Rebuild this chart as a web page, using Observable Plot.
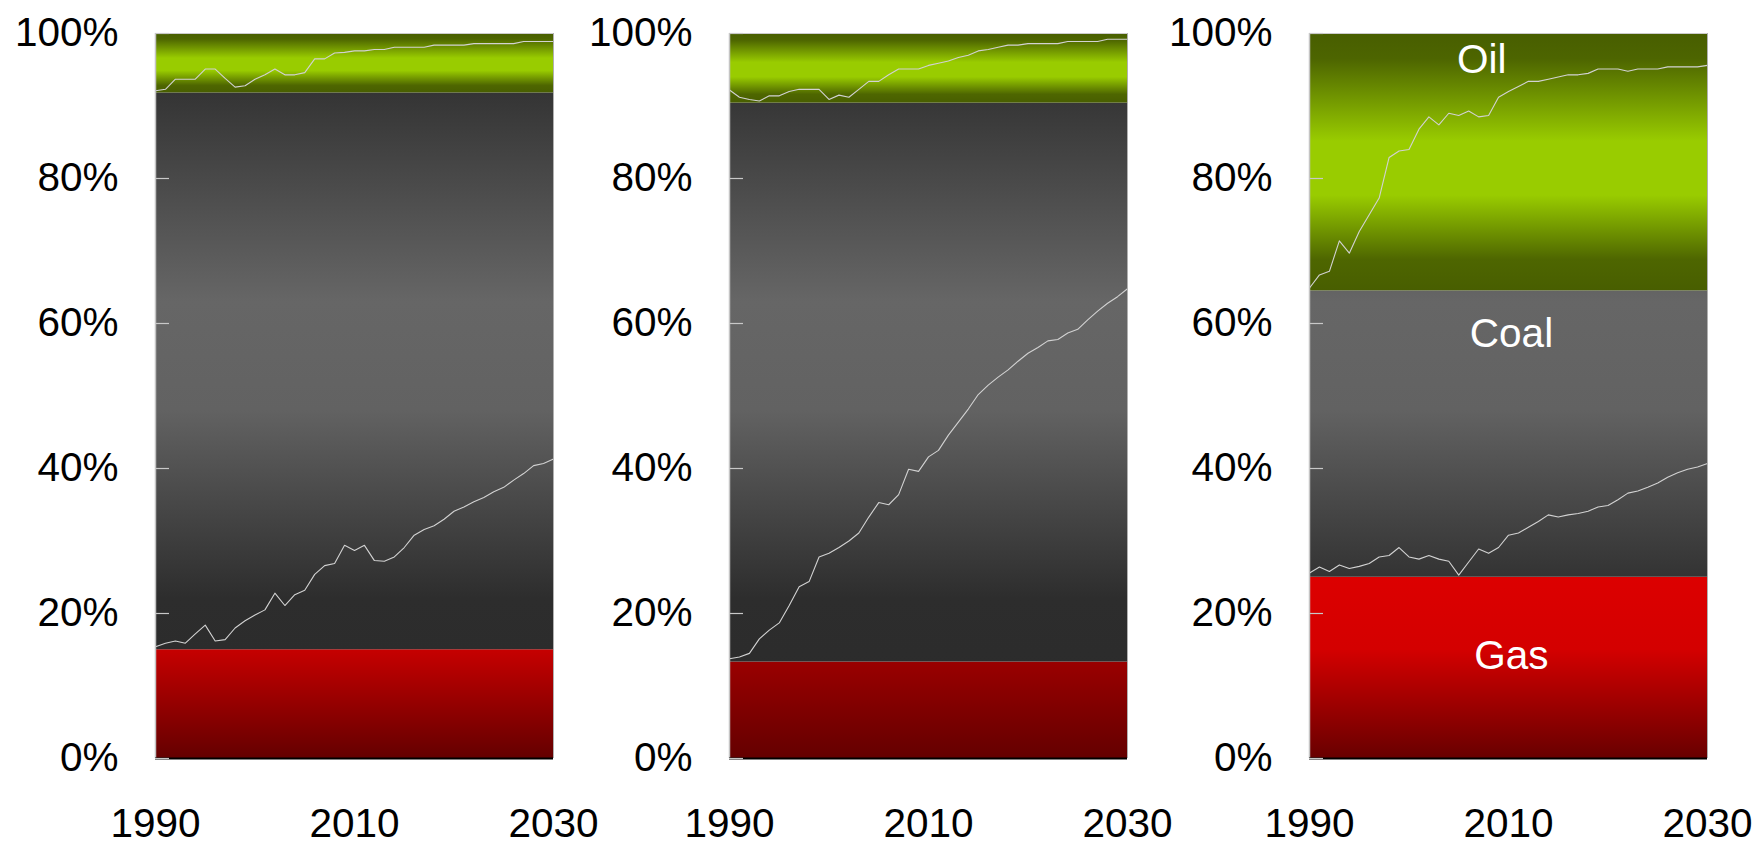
<!DOCTYPE html>
<html><head><meta charset="utf-8">
<script src="https://cdn.jsdelivr.net/npm/d3@7"></script>
<script src="https://cdn.jsdelivr.net/npm/@observablehq/plot@0.6"></script>
<style>
html,body{margin:0;padding:0;background:#fff;}
#chart{position:relative;width:1760px;height:845px;overflow:hidden;}
#chart svg{position:absolute;top:0;}
</style></head><body><div id="chart"></div>
<script>
// ---------- data ----------
const years = [1990,1991,1992,1993,1994,1995,1996,1997,1998,1999,2000,2001,2002,2003,2004,2005,2006,2007,2008,2009,2010,2011,2012,2013,2014,2015,2016,2017,2018,2019,2020,2021,2022,2023,2024,2025,2026,2027,2028,2029,2030];
const yTicks = [0, 20, 40, 60, 80, 100];
const xTicks = [1990, 2010, 2030];
const gasTop = [15.0, 13.3, 25.0];
const oilBottom = [91.8, 90.4, 64.5];
const panel1Lower = [15.4,15.9,16.2,15.9,17.2,18.4,16.2,16.4,18.0,19.0, 19.8,20.5,22.8,21.1,22.6,23.2,25.4,26.6,26.9,29.4, 28.7,29.4,27.3,27.2,27.8,29.1,30.8,31.6,32.1,33.0, 34.1,34.7,35.4,36.0,36.8,37.4,38.4,39.3,40.4,40.7, 41.3];
const panel1Upper = [92.1,92.3,93.7,93.7,93.7,95.1,95.1,93.8,92.6,92.8, 93.7,94.3,95.1,94.3,94.3,94.6,96.5,96.5,97.3,97.4, 97.6,97.6,97.8,97.8,98.1,98.1,98.1,98.1,98.4,98.4, 98.4,98.4,98.6,98.6,98.6,98.6,98.6,98.9,98.9,98.9, 98.9];
const panel2Lower = [13.75,14.0,14.5,16.5,17.7,18.7,21.1,23.7,24.4,27.8, 28.3,29.1,30.0,31.1,33.3,35.3,35.0,36.4,39.9,39.6, 41.6,42.5,44.6,46.4,48.2,50.2,51.5,52.6,53.6,54.8, 55.9,56.7,57.6,57.8,58.7,59.2,60.5,61.7,62.8,63.7, 64.8];
const panel2Upper = [92.2,91.2,90.9,90.7,91.4,91.4,92.0,92.3,92.3,92.3, 90.9,91.5,91.2,92.3,93.4,93.4,94.3,95.1,95.1,95.1, 95.6,95.9,96.2,96.7,97.0,97.6,97.8,98.1,98.4,98.4, 98.6,98.6,98.6,98.6,98.9,98.9,98.9,98.9,99.2,99.2, 99.2];
const panel3Lower = [25.6,26.4,25.8,26.7,26.2,26.5,26.9,27.8,28.0,29.1, 27.8,27.5,28.0,27.5,27.2,25.3,27.1,28.9,28.3,29.1, 30.8,31.1,31.9,32.7,33.6,33.3,33.6,33.8,34.1,34.7, 34.9,35.7,36.6,36.9,37.4,38.0,38.8,39.4,39.9,40.2, 40.7];
const panel3Upper = [64.9,66.7,67.2,71.4,69.7,72.7,75.0,77.3,82.9,83.8, 84.0,86.8,88.5,87.4,89.0,88.7,89.3,88.5,88.7,91.2, 92.0,92.7,93.4,93.4,93.7,94.0,94.3,94.3,94.5,95.1, 95.1,95.1,94.8,95.1,95.1,95.1,95.4,95.4,95.4,95.4, 95.6];
const labelNames = ["Oil", "Coal", "Gas"];
const labelYears = [2007.3, 2010.3, 2010.3];
const labelShares = [96.3, 58.6, 14.2];

// ---------- styles ----------
const panelLeft = [0, 574, 1154];
const gasStops = [
  [[0, "#c60000"], [1, "#640000"]],
  [[0, "#9a0000"], [1, "#640000"]],
  [[0, "#dc0000"], [0.4, "#d40000"], [1, "#680000"]]
];
const oilStops = [[0, "#485e00"], [0.1, "#4d6500"], [0.42, "#99cc00"], [0.63, "#99cc00"], [0.88, "#4e6600"], [1, "#485e00"]];
const coalStops = [[0, "#333333"], [0.08, "#343434"], [0.37, "#666666"], [0.52, "#626262"], [0.78, "#2d2d2d"], [1, "#2a2a2a"]];

const lowers = [panel1Lower, panel2Lower, panel3Lower];
const uppers = [panel1Upper, panel2Upper, panel3Upper];
const font = "Liberation Sans, Arial, Helvetica, sans-serif";
const fs = 40.5;
const container = document.getElementById("chart");

function addGrad(defs, id, stops, opts) {
  const g = defs.append("linearGradient").attr("id", id)
    .attr("x1", 0).attr("x2", 0);
  if (opts) { g.attr("gradientUnits", "userSpaceOnUse").attr("y1", opts.y1).attr("y2", opts.y2); }
  else { g.attr("y1", 0).attr("y2", 1); }
  for (const [o, c] of stops) g.append("stop").attr("offset", o).attr("stop-color", c);
}

for (let i = 0; i < 3; i++) {
  const x1 = years[0], x2 = years[years.length - 1];
  const bands = [
    {name: "Gas", x1, x2, y1: 0, y2: gasTop[i]},
    {name: "Coal", x1, x2, y1: gasTop[i], y2: oilBottom[i]},
    {name: "Oil", x1, x2, y1: oilBottom[i], y2: 100}
  ];
  const lo = years.map((year, j) => ({year, v: lowers[i][j]}));
  const up = years.map((year, j) => ({year, v: uppers[i][j]}));
  const marks = [
    Plot.rect([bands[0]], {x1: "x1", x2: "x2", y1: "y1", y2: "y2", fill: `url(#gas-${i})`}),
    Plot.rect([bands[1]], {x1: "x1", x2: "x2", y1: "y1", y2: "y2", fill: `url(#coal-${i})`}),
    Plot.rect([bands[2]], {x1: "x1", x2: "x2", y1: "y1", y2: "y2", fill: `url(#oil-${i})`}),
    Plot.line(lo, {x: "year", y: "v", stroke: "#d2d2d2", strokeWidth: 1.1}),
    Plot.line(up, {x: "year", y: "v", stroke: "#d2d2d2", strokeWidth: 1.1}),
    Plot.ruleX([x1], {stroke: "#c4c4c4", strokeWidth: 1.5}),
    Plot.ruleX([x2], {stroke: "#b0b0b0", strokeWidth: 1}),
    Plot.ruleY([100], {stroke: "#cccccc", strokeWidth: 1.2}),
    Plot.ruleY([0], {stroke: "#000", strokeWidth: 2}),
    Plot.axisY(yTicks, {tickSize: 14, dx: 14, tickFormat: () => "", stroke: "#c8c8c8", strokeWidth: 1.2}),
    Plot.axisY(yTicks, {tickSize: 0, tickPadding: 37, tickFormat: d => `${d}%`, fontSize: fs, fill: "#000"}),
    Plot.axisX(xTicks, {tickSize: 0, tickPadding: 50, tickFormat: d => `${d}`, fontSize: fs, fill: "#000"})
  ];
  if (i === 2) {
    const labels = labelNames.map((name, j) => ({name, year: labelYears[j], share: labelShares[j]}));
    marks.push(Plot.text(labels, {x: "year", y: "share", text: "name", fill: "#fff", fontSize: fs}));
  }
  const plot = Plot.plot({
    width: 605, height: 845,
    marginLeft: 155, marginRight: 52, marginTop: 33, marginBottom: 87,
    x: {domain: [1990, 2030], axis: null},
    y: {domain: [0, 100], axis: null},
    style: {fontFamily: font, fontSize: fs + "px", color: "#000", background: "transparent", overflow: "visible"},
    marks
  });
  const ys = plot.scale("y");
  const defs = d3.select(plot).insert("defs", ":first-child");
  addGrad(defs, `gas-${i}`, gasStops[i]);
  addGrad(defs, `oil-${i}`, oilStops);
  addGrad(defs, `coal-${i}`, coalStops, {y1: ys.apply(100), y2: ys.apply(0)});
  plot.style.left = panelLeft[i] + "px";
  container.appendChild(plot);
}
</script>
</body></html>
